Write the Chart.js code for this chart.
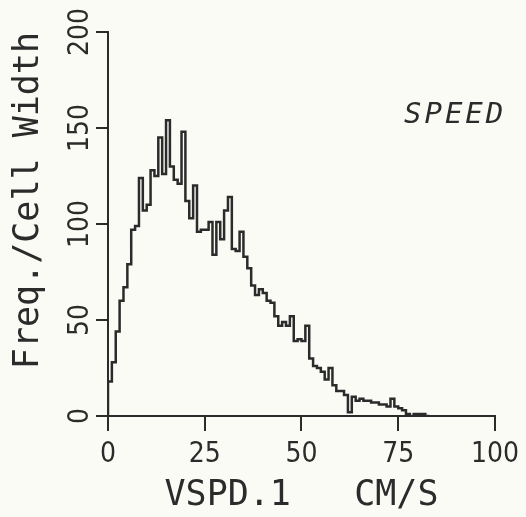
<!DOCTYPE html>
<html>
<head>
<meta charset="utf-8">
<script src="https://cdn.jsdelivr.net/npm/chart.js@4/dist/chart.umd.min.js"></script>
<style>
    html, body {
        margin: 0;
        padding: 0;
        background: #fbfbf6;
    }
    #speedChart {
        display: block;
    }
</style>
</head>
<body>
<canvas id="speedChart" width="526" height="517"></canvas>
<script>

/* ====================================
   DATA
==================================== */

// left edge of each 1 cm/s speed cell
const speedEdges = [
    0, 1, 2, 3, 4, 5, 6, 7, 8, 9,
    10, 11, 12, 13, 14, 15, 16, 17, 18, 19,
    20, 21, 22, 23, 24, 25, 26, 27, 28, 29,
    30, 31, 32, 33, 34, 35, 36, 37, 38, 39,
    40, 41, 42, 43, 44, 45, 46, 47, 48, 49,
    50, 51, 52, 53, 54, 55, 56, 57, 58, 59,
    60, 61, 62, 63, 64, 65, 66, 67, 68, 69,
    70, 71, 72, 73, 74, 75, 76, 77, 78, 79,
    80, 81, 82, 83
];

// freq. / cell width
const freqPerWidth = [
    17, 18, 28, 44, 60, 67, 79, 97, 99, 124,
    107, 110, 128, 125, 145, 126, 154, 130, 123, 121,
    148, 112, 103, 120, 96, 97, 97, 101, 84, 101,
    92, 107, 114, 87, 86, 96, 83, 77, 68, 63,
    66, 64, 60, 59, 52, 47, 49, 47, 52, 39,
    40, 39, 47, 30, 26, 25, 23, 19, 25, 16,
    13, 13, 11, 2, 10, 8, 9, 8, 8, 7,
    7, 6, 6, 5, 9, 5, 4, 3, 1, 0,
    1, 1, 1, 0
];

const xTicks = [0, 25, 50, 75, 100];

const yTicks = [0, 50, 100, 150, 200];

const ink = "#2b2b2b";

/* ====================================
   INIT
==================================== */

document.addEventListener("DOMContentLoaded", () => {

    createSpeedHistogram();

});

/* ====================================
   PAPER + LABEL
==================================== */

const paperPlugin = {

    id: "paper",

    beforeDraw(chart) {

        const ctx = chart.ctx;

        ctx.save();
        ctx.fillStyle = "#fbfbf6";
        ctx.fillRect(0, 0, chart.width, chart.height);
        ctx.restore();

    },

    afterDraw(chart) {

        const ctx = chart.ctx;
        const area = chart.chartArea;

        ctx.save();
        ctx.fillStyle = ink;
        ctx.font = "oblique 29px 'DejaVu Sans Mono'";
        ctx.letterSpacing = "3px";
        ctx.textAlign = "left";
        ctx.textBaseline = "alphabetic";
        ctx.fillText("SPEED", area.right - 91, area.top + 91);
        ctx.restore();

    }

};

/* ====================================
   HISTOGRAM
==================================== */

function createSpeedHistogram() {

    const canvas =
        document.getElementById("speedChart");

    if (!canvas) return;

    const points = [{ x: speedEdges[0], y: 0 }].concat(
        speedEdges.map((edge, i) => ({ x: edge, y: freqPerWidth[i] }))
    );

    const tickFont = {
        family: "'Liberation Sans Narrow', 'DejaVu Sans Condensed', 'DejaVu Sans Mono'",
        size: 28
    };

    const titleFont = {
        family: "'DejaVu Sans Mono'",
        size: 35
    };

    new Chart(canvas, {

        type: "line",

        data: {

            datasets: [{

                data: points,

                stepped: "after",

                borderColor: ink,

                borderWidth: 2.5,

                pointRadius: 0,

                fill: false

            }]

        },

        options: {

            responsive: false,

            animation: false,

            layout: {
                padding: { left: 0, right: 30, top: 32, bottom: 0 }
            },

            plugins: {
                legend: { display: false },
                tooltip: { enabled: false }
            },

            scales: {

                x: {

                    type: "linear",

                    min: xTicks[0],

                    max: xTicks[xTicks.length - 1],

                    afterBuildTicks: scale => {
                        scale.ticks = xTicks.map(v => ({ value: v }));
                    },

                    afterFit: scale => {
                        scale.height = 101;
                    },

                    border: { color: ink, width: 2 },

                    grid: {
                        drawOnChartArea: false,
                        drawTicks: true,
                        tickLength: 15,
                        color: ink,
                        lineWidth: 2
                    },

                    ticks: {
                        color: ink,
                        font: tickFont,
                        padding: 7,
                        maxRotation: 0
                    },

                    title: {
                        display: true,
                        text: "VSPD.1   CM/S",
                        color: ink,
                        font: titleFont,
                        padding: { top: 0, bottom: 0 }
                    }

                },

                y: {

                    min: yTicks[0],

                    max: yTicks[yTicks.length - 1],

                    afterBuildTicks: scale => {
                        scale.ticks = yTicks.map(v => ({ value: v }));
                    },

                    afterFit: scale => {
                        scale.width = 108;
                    },

                    border: { color: ink, width: 2 },

                    grid: {
                        drawOnChartArea: false,
                        drawTicks: true,
                        tickLength: 12,
                        color: ink,
                        lineWidth: 2
                    },

                    ticks: {
                        color: ink,
                        font: tickFont,
                        minRotation: 90,
                        maxRotation: 90,
                        crossAlign: "center",
                        padding: -9
                    },

                    title: {
                        display: true,
                        text: "Freq./Cell Width",
                        align: "end",
                        color: ink,
                        font: titleFont,
                        padding: { top: 8, bottom: 0 }
                    }

                }

            }

        },

        plugins: [paperPlugin]

    });

}

</script>
</body>
</html>
